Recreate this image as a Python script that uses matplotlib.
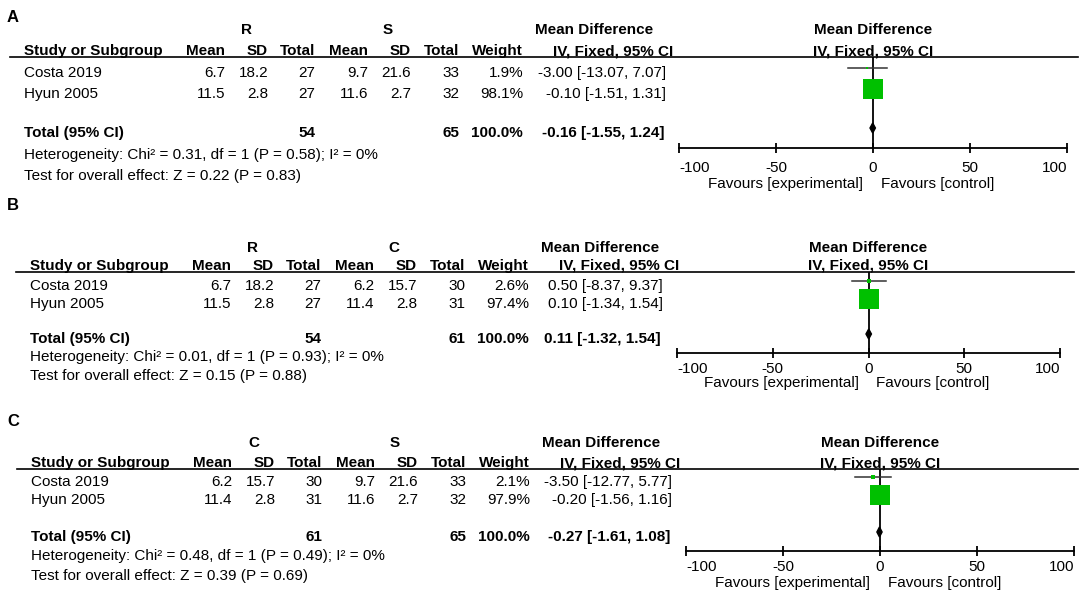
import matplotlib; matplotlib.use('Agg')
import matplotlib.pyplot as plt

plt.rcParams['font.family'] = ['Liberation Sans', 'DejaVu Sans']

# ---- data (one entry per panel A, B, C) ----
panel_tags = ['A', 'B', 'C']
group_1 = ['R', 'R', 'C']
group_2 = ['S', 'C', 'S']
studies = ['Costa 2019', 'Hyun 2005']
mean_1 = [[6.7, 11.5], [6.7, 11.5], [6.2, 11.4]]
sd_1 = [[18.2, 2.8], [18.2, 2.8], [15.7, 2.8]]
n_1 = [[27, 27], [27, 27], [30, 31]]
mean_2 = [[9.7, 11.6], [6.2, 11.4], [9.7, 11.6]]
sd_2 = [[21.6, 2.7], [15.7, 2.8], [21.6, 2.7]]
n_2 = [[33, 32], [30, 31], [33, 32]]
weight = [[1.9, 98.1], [2.6, 97.4], [2.1, 97.9]]
md = [[-3.00, -0.10], [0.50, 0.10], [-3.50, -0.20]]
ci_lo = [[-13.07, -1.51], [-8.37, -1.34], [-12.77, -1.56]]
ci_hi = [[7.07, 1.31], [9.37, 1.54], [5.77, 1.16]]
tot_md = [-0.16, 0.11, -0.27]
tot_lo = [-1.55, -1.32, -1.61]
tot_hi = [1.24, 1.54, 1.08]
chi2 = [0.31, 0.01, 0.48]
p_het = [0.58, 0.93, 0.49]
z_val = [0.22, 0.15, 0.39]
p_z = [0.83, 0.88, 0.69]
axis_ticks = [-100, -50, 0, 50, 100]

# ---- layout in pixels (figure is 1084 x 601) ----
W, H = 1084, 601
GREEN = '#00c000'
FS = 11
LAY = [
    dict(tag=17, grp=30, head=51, line=57, rows=[73, 94], tot=133, het=155, test=176, dx=0, ci_r=666,
         f0=679, f1=1067, fax=148, pad=6, fav=36, line_end=1078),
    dict(tag=206, grp=248, head=266, line=272, rows=[286, 304], tot=339, het=357, test=376, dx=6, ci_r=663,
         f0=677, f1=1060, fax=353, pad=3, fav=30, line_end=1074),
    dict(tag=422, grp=443, head=463, line=469, rows=[482, 500], tot=537, het=556, test=576, dx=7, ci_r=672,
         f0=686, f1=1074, fax=551, pad=3, fav=32, line_end=1078),
]
# right edges of the numeric columns (panel A positions)
COLS = [225, 268, 315, 368, 411, 459, 523]

fig = plt.figure(figsize=(W / 100, H / 100), dpi=100)
ax = fig.add_axes([0, 0, 1, 1])
ax.set_xlim(0, W); ax.set_ylim(H, 0); ax.axis('off')

for p, L in enumerate(LAY):
    dx = L['dx']
    cols = [c + dx for c in COLS]
    ax.text(7, L['tag'], panel_tags[p], size=12, fontweight='bold', va='center')
    ax.text(247 + dx, L['grp'], group_1[p], size=FS, fontweight='bold', ha='center', va='center')
    ax.text(388 + dx, L['grp'], group_2[p], size=FS, fontweight='bold', ha='center', va='center')
    ax.text(594 + dx, L['grp'], 'Mean Difference', size=FS, fontweight='bold', ha='center', va='center')
    heads = ['Mean', 'SD', 'Total', 'Mean', 'SD', 'Total', 'Weight']
    ax.text(24 + dx, L['head'], 'Study or Subgroup', size=FS, fontweight='bold', va='center')
    for h, c in zip(heads, cols):
        ax.text(c, L['head'], h, size=FS, fontweight='bold', ha='right', va='center')
    ax.text(673 + dx, L['head'], 'IV, Fixed, 95% CI', size=FS, fontweight='bold', ha='right', va='center')
    ax.plot([10 + dx, L['line_end']], [L['line'], L['line']], color='black', lw=1.2)

    for i, s in enumerate(studies):
        y = L['rows'][i]
        ax.text(24 + dx, y, s, size=FS, va='center')
        vals = [f'{mean_1[p][i]:.1f}', f'{sd_1[p][i]:.1f}', f'{n_1[p][i]}',
                f'{mean_2[p][i]:.1f}', f'{sd_2[p][i]:.1f}', f'{n_2[p][i]}', f'{weight[p][i]:.1f}%']
        for v, c in zip(vals, cols):
            ax.text(c, y, v, size=FS, ha='right', va='center')
        ax.text(L['ci_r'], y, f'{md[p][i]:.2f} [{ci_lo[p][i]:.2f}, {ci_hi[p][i]:.2f}]',
                size=FS, ha='right', va='center')

    y = L['tot']
    ax.text(24 + dx, y, 'Total (95% CI)', size=FS, fontweight='bold', va='center')
    ax.text(cols[2], y, f'{sum(n_1[p])}', size=FS, fontweight='bold', ha='right', va='center')
    ax.text(cols[5], y, f'{sum(n_2[p])}', size=FS, fontweight='bold', ha='right', va='center')
    ax.text(cols[6], y, f'{sum(weight[p]):.1f}%', size=FS, fontweight='bold', ha='right', va='center')
    ax.text(L['ci_r'] - 2, y, f'{tot_md[p]:.2f} [{tot_lo[p]:.2f}, {tot_hi[p]:.2f}]',
            size=FS, fontweight='bold', ha='right', va='center')
    ax.text(24 + dx, L['het'], f'Heterogeneity: Chi² = {chi2[p]:.2f}, df = 1 (P = {p_het[p]:.2f}); I² = 0%',
            size=FS, va='center')
    ax.text(24 + dx, L['test'], f'Test for overall effect: Z = {z_val[p]:.2f} (P = {p_z[p]:.2f})',
            size=FS, va='center')

    # ---- forest plot ----
    f0, f1, fax = L['f0'], L['f1'], L['fax']
    zero = (f0 + f1) / 2
    ax.text(zero, L['grp'], 'Mean Difference', size=FS, fontweight='bold', ha='center', va='center')
    ax.text(zero, L['head'], 'IV, Fixed, 95% CI', size=FS, fontweight='bold', ha='center', va='center')
    fa = fig.add_axes([f0 / W, 1 - fax / H, (f1 - f0) / W, (fax - L['line']) / H])
    fa.set_xlim(-100, 100); fa.set_ylim(fax, L['line'])
    fa.patch.set_alpha(0)
    for sp in ['top', 'left', 'right']:
        fa.spines[sp].set_visible(False)
    fa.spines['bottom'].set_linewidth(1.3)
    fa.set_yticks([])
    fa.set_xticks(axis_ticks)
    fa.set_xticklabels([str(t) for t in axis_ticks])
    fa.tick_params(axis='x', direction='inout', length=7, width=1.3, labelsize=FS, pad=L['pad'])
    tl = fa.get_xticklabels()
    tl[0].set_ha('left'); tl[-1].set_ha('right')
    fa.axvline(0, color='black', lw=1.3, zorder=1)
    for i in range(len(studies)):
        yy = L['rows'][i] - 5
        fa.plot([ci_lo[p][i], ci_hi[p][i]], [yy, yy], color='#333333', lw=1.1, zorder=2, clip_on=False)
        fa.plot([md[p][i]], [yy], marker='s', ms=15.2 * (weight[p][i] / 100) ** 0.5, color=GREEN,
                mec=GREEN, mew=0, zorder=3, clip_on=False)
    yy = L['tot'] - 5
    fa.fill([tot_lo[p], tot_md[p], tot_hi[p], tot_md[p]], [yy, yy - 5, yy, yy + 5], color='black', zorder=4)
    ax.text(zero - 10, fax + L['fav'], 'Favours [experimental]', size=FS, ha='right', va='center')
    ax.text(zero + 8, fax + L['fav'], 'Favours [control]', size=FS, ha='left', va='center')

plt.savefig('out.png', dpi=100, facecolor='white')
